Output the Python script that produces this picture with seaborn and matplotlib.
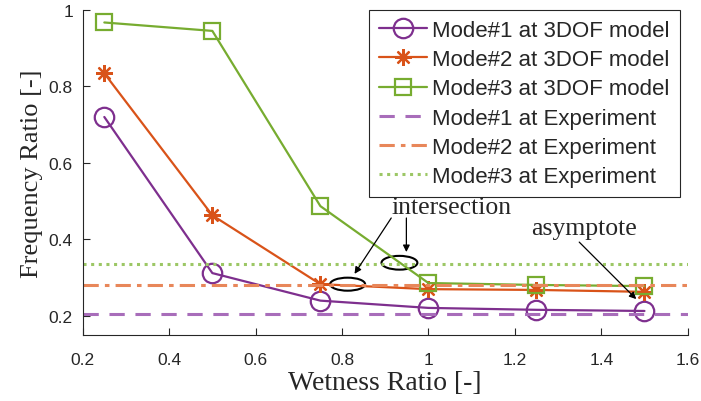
import matplotlib
matplotlib.use("Agg")
import matplotlib.pyplot as plt
import seaborn as sns
import pandas as pd
from matplotlib.patches import Ellipse

wetness = [0.25, 0.5, 0.75, 1.0, 1.25, 1.5]
mode1_model = [0.72, 0.312, 0.240, 0.221, 0.216, 0.213]
mode2_model = [0.834, 0.463, 0.283, 0.270, 0.268, 0.263]
mode3_model = [0.967, 0.945, 0.487, 0.286, 0.281, 0.278]
mode1_exp = 0.205
mode2_exp = 0.281
mode3_exp = 0.336
labels_model = ["Mode#1 at 3DOF model", "Mode#2 at 3DOF model", "Mode#3 at 3DOF model"]
labels_exp = ["Mode#1 at Experiment", "Mode#2 at Experiment", "Mode#3 at Experiment"]
xticks = [0.2, 0.4, 0.6, 0.8, 1.0, 1.2, 1.4, 1.6]
yticks = [0.2, 0.4, 0.6, 0.8, 1.0]

colors = ["#7E2F8E", "#D95319", "#77AC30"]
exp_colors = ["#A86DBA", "#E8875A", "#9CC765"]

sns.set_style("ticks")
plt.rcParams['font.family'] = ['Liberation Sans', 'DejaVu Sans']

fig = plt.figure(figsize=(7.01, 4.02), dpi=100)
ax = fig.add_axes([0.118, 0.164, 0.863, 0.809])

markers = ["o", (8, 2, 0), "s"]
msizes = [14, 12, 11]
for vals, lab, c, m, ms in zip([mode1_model, mode2_model, mode3_model], labels_model, colors, markers, msizes):
    df = pd.DataFrame({"x": wetness, "y": vals})
    sns.lineplot(data=df, x="x", y="y", ax=ax, color=c, linewidth=1.6, marker=m,
                 markersize=ms, markerfacecolor="none", markeredgecolor=c,
                 markeredgewidth=1.6, label=lab)

styles = [(0, (5, 3.5)), (0, (5, 2, 1.5, 2)), (0, (1, 1.5))]
for val, lab, c, ls in zip([mode1_exp, mode2_exp, mode3_exp], labels_exp, exp_colors, styles):
    ax.axhline(val, color=c, linestyle=ls, linewidth=2.2, label=lab)

ax.set_xlim(0.2, 1.6)
ax.set_ylim(0.15, 1.0)
ax.set_xticks(xticks)
ax.set_xticklabels(["0.2", "0.4", "0.6", "0.8", "1", "1.2", "1.4", "1.6"])
ax.set_yticks(yticks)
ax.set_yticklabels(["0.2", "0.4", "0.6", "0.8", "1"])
ax.tick_params(direction="in", length=5, width=0.8, labelsize=12.5, colors="#262626")
ax.tick_params(axis="x", pad=12)
ax.tick_params(axis="y", pad=7)
for s in ["top", "right"]:
    ax.spines[s].set_visible(False)
for s in ["left", "bottom"]:
    ax.spines[s].set_color("#262626")
    ax.spines[s].set_linewidth(0.8)

ax.set_xlabel("Wetness Ratio [-]", family=["Liberation Serif"], fontsize=20, color="#262626", labelpad=2)
ax.set_ylabel("Frequency Ratio [-]", family=["Liberation Serif"], fontsize=19, color="#262626", labelpad=4)

# Annotations
ax.add_patch(Ellipse((0.813, 0.283), 0.081, 0.034, fill=False, edgecolor="black", linewidth=1.5))
ax.add_patch(Ellipse((0.933, 0.339), 0.083, 0.036, fill=False, edgecolor="black", linewidth=1.5))
ax.text(1.053, 0.486, "intersection", family=["Liberation Serif"], fontsize=18.5,
        ha="center", va="center")
ax.text(1.361, 0.430, "asymptote", family=["Liberation Serif"], fontsize=18.5,
        ha="center", va="center")
arrow = dict(arrowstyle="-|>", color="black", linewidth=0.9, mutation_scale=10,
             shrinkA=0, shrinkB=0)
ax.annotate("", xy=(0.829, 0.310), xytext=(0.914, 0.456), arrowprops=arrow)
ax.annotate("", xy=(0.949, 0.367), xytext=(0.949, 0.456), arrowprops=arrow)
ax.annotate("", xy=(1.481, 0.244), xytext=(1.349, 0.393), arrowprops=arrow)

leg = ax.legend(loc="upper right", bbox_to_anchor=(0.987, 1.0), fontsize=16,
                frameon=True, fancybox=False, handlelength=2.2, handletextpad=0.22,
                labelspacing=0.37, borderpad=0.45, borderaxespad=0.0)
leg.get_frame().set_edgecolor("#262626")
leg.get_frame().set_linewidth(0.8)
leg.get_frame().set_alpha(1)

fig.savefig("out.png", dpi=100)
